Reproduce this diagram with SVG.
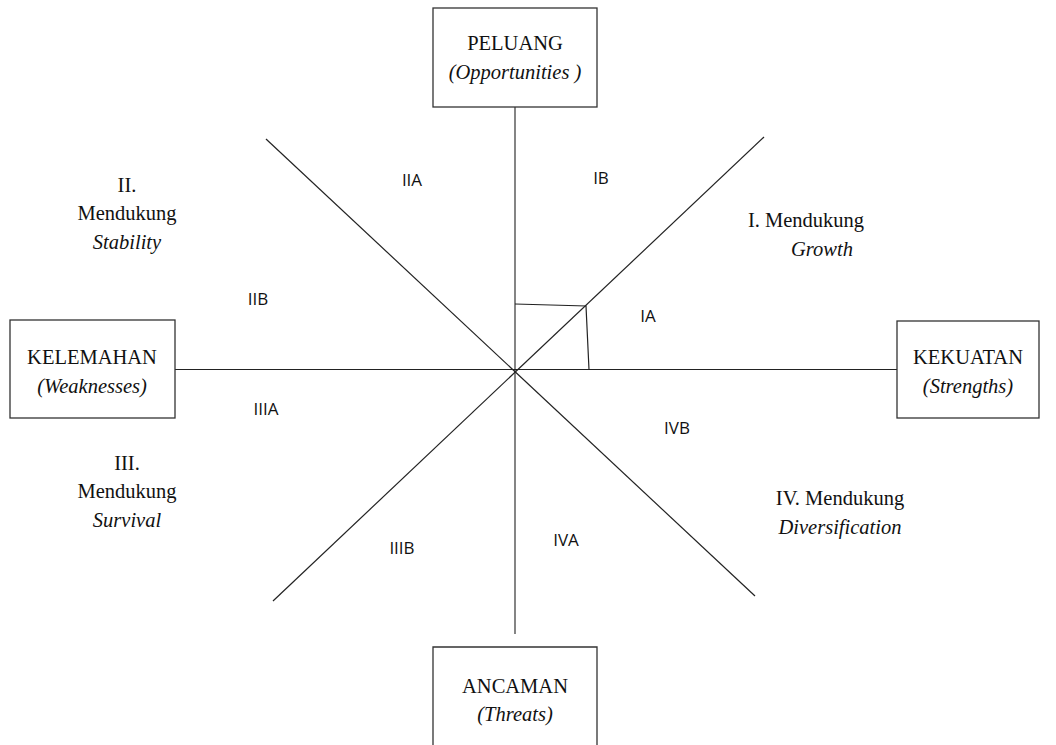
<svg xmlns="http://www.w3.org/2000/svg" width="1056" height="745" viewBox="0 0 1056 745">
<style>
.box{fill:#fff;stroke:#333;stroke-width:1.3}
.ln{stroke:#222;stroke-width:1.2;fill:none}
.vl{stroke:#666;stroke-width:1.6;fill:none}
.t{font-family:"Liberation Serif",serif;font-size:20.5px;fill:#111;text-anchor:middle}
.i{font-style:italic}
.s{font-family:"Open Sans","Liberation Sans",sans-serif;font-size:17px;fill:#111;text-anchor:middle}
</style>
<rect width="1056" height="745" fill="#fff"/>
<g id="connectors">
<line class="vl" x1="515" y1="107" x2="515" y2="634"/>
<line class="ln" x1="175" y1="369.5" x2="897" y2="369.5"/>
<line class="ln" x1="273" y1="601" x2="764" y2="137"/>
<line class="ln" x1="266" y1="139" x2="755" y2="596"/>
<polyline class="ln" points="515,304 586,306 589,369.5"/>
</g>
<g id="peluang">
<rect class="box" x="433" y="8" width="164" height="99"/>
<text class="t" x="515" y="50">PELUANG</text>
<text class="t i" x="515" y="79">(Opportunities )</text>
</g>
<g id="kelemahan">
<rect class="box" x="10" y="320" width="165" height="98"/>
<text class="t" x="92" y="364">KELEMAHAN</text>
<text class="t i" x="92" y="393">(Weaknesses)</text>
</g>
<g id="kekuatan">
<rect class="box" x="897" y="321" width="142" height="97"/>
<text class="t" x="968" y="364">KEKUATAN</text>
<text class="t i" x="968" y="393">(Strengths)</text>
</g>
<g id="ancaman">
<path class="box" d="M433,752 V647 H597 V752"/>
<text class="t" x="515" y="693">ANCAMAN</text>
<text class="t i" x="515" y="721">(Threats)</text>
</g>
<g id="quadrant-labels">
<text class="s" x="412" y="186">IIA</text>
<text class="s" x="601" y="184">IB</text>
<text class="s" x="258" y="305">IIB</text>
<text class="s" x="648" y="322">IA</text>
<text class="s" x="266" y="415">IIIA</text>
<text class="s" x="677" y="434">IVB</text>
<text class="s" x="402" y="554">IIIB</text>
<text class="s" x="566" y="546">IVA</text>
</g>
<g id="strategy-labels">
<text class="t" x="127" y="192">II.</text>
<text class="t" x="127" y="220">Mendukung</text>
<text class="t i" x="127" y="249">Stability</text>
<text class="t" x="806" y="227">I. Mendukung</text>
<text class="t i" x="822" y="256">Growth</text>
<text class="t" x="127" y="470">III.</text>
<text class="t" x="127" y="498">Mendukung</text>
<text class="t i" x="127" y="527">Survival</text>
<text class="t" x="840" y="505">IV. Mendukung</text>
<text class="t i" x="840" y="534">Diversification</text>
</g>
</svg>
